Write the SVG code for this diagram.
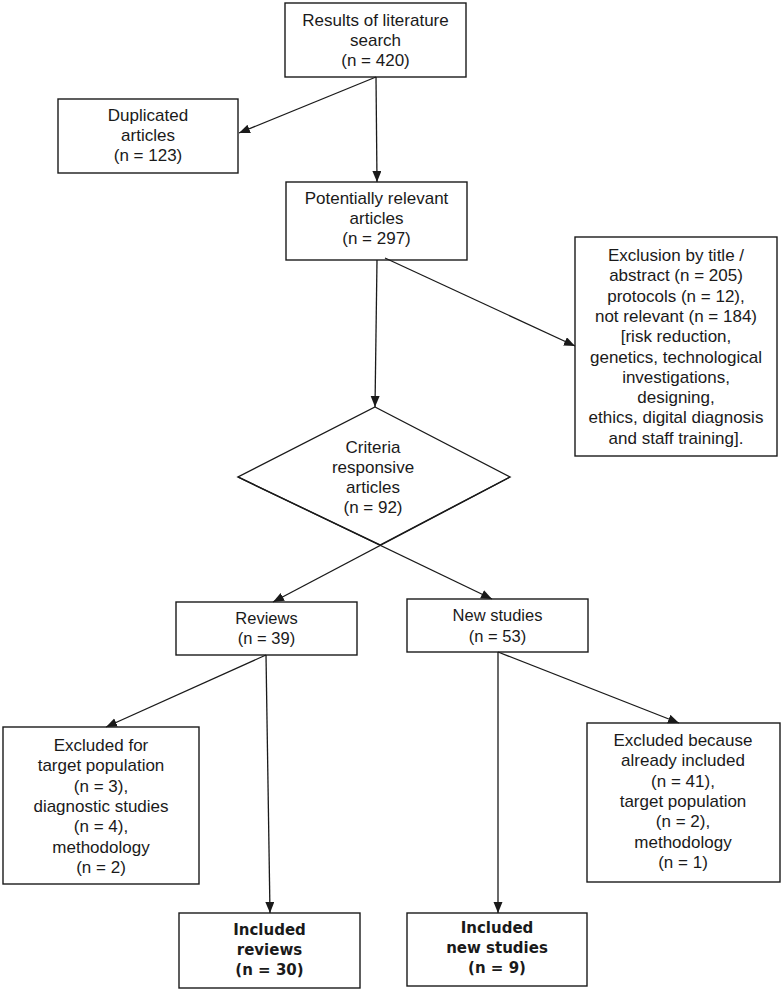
<svg xmlns="http://www.w3.org/2000/svg" width="783" height="991" viewBox="0 0 783 991">
<defs>
<marker id="arr" markerUnits="userSpaceOnUse" markerWidth="12" markerHeight="10" refX="11" refY="4.5" orient="auto">
<path d="M0,0 L11,4.5 L0,9 z" fill="#1a1a1a"/>
</marker>
<style>
.box{fill:#fff;stroke:#1a1a1a;stroke-width:1.4}
.t{font-family:"Liberation Sans",Arial,sans-serif;font-size:17px;fill:#1a1a1a;text-anchor:middle}
.s{font-size:16.5px}
.b{font-family:"DejaVu Sans",Verdana,sans-serif;font-size:15px;font-weight:bold;fill:#1a1a1a;text-anchor:middle}
.c{fill:none;stroke:#1a1a1a;stroke-width:1.3;marker-end:url(#arr)}
</style>
</defs>
<rect width="783" height="991" fill="#fff"/>

<g id="search">
<rect class="box" x="285" y="3" width="181" height="74"/>
<text class="t" x="375.5" y="26">Results of literature</text>
<text class="t" x="375.5" y="46">search</text>
<text class="t" x="375.5" y="66">(n = 420)</text>
</g>

<g id="duplicated">
<rect class="box" x="58" y="99" width="180" height="74"/>
<text class="t" x="148" y="121">Duplicated</text>
<text class="t" x="148" y="141">articles</text>
<text class="t" x="148" y="161">(n = 123)</text>
</g>

<g id="relevant">
<rect class="box" x="286" y="182" width="181" height="78"/>
<text class="t" x="376.5" y="204">Potentially relevant</text>
<text class="t" x="376.5" y="224">articles</text>
<text class="t" x="376.5" y="244">(n = 297)</text>
</g>

<g id="exclusion">
<rect class="box" x="575" y="237" width="202" height="219"/>
<text class="t" x="676" y="261">Exclusion by title /</text>
<text class="t" x="676" y="281.3">abstract (n = 205)</text>
<text class="t" x="676" y="301.6">protocols (n = 12),</text>
<text class="t" x="676" y="321.9">not relevant (n = 184)</text>
<text class="t" x="676" y="342.2">[risk reduction,</text>
<text class="t" x="676" y="362.5">genetics, technological</text>
<text class="t" x="676" y="382.8">investigations,</text>
<text class="t" x="676" y="403.1">designing,</text>
<text class="t" x="676" y="423.4">ethics, digital diagnosis</text>
<text class="t" x="676" y="443.7">and staff training].</text>
</g>

<g id="criteria">
<polygon class="box" fill="none" style="fill:none" points="375,407 510,477 380,545 238,477"/>
<text class="t" x="373" y="453">Criteria</text>
<text class="t" x="373" y="473">responsive</text>
<text class="t" x="373" y="493">articles</text>
<text class="t" x="373" y="513">(n = 92)</text>
</g>

<g id="reviews">
<rect class="box" x="176" y="602" width="181" height="53"/>
<text class="t s" x="266.5" y="624">Reviews</text>
<text class="t s" x="266.5" y="644">(n = 39)</text>
</g>

<g id="newstudies">
<rect class="box" x="407" y="599" width="181" height="53"/>
<text class="t s" x="497.5" y="621">New studies</text>
<text class="t s" x="497.5" y="642">(n = 53)</text>
</g>

<g id="excluded-reviews">
<rect class="box" x="3" y="727" width="196" height="157"/>
<text class="t" x="101" y="751">Excluded for</text>
<text class="t" x="101" y="771.3">target population</text>
<text class="t" x="101" y="791.6">(n = 3),</text>
<text class="t" x="101" y="811.9">diagnostic studies</text>
<text class="t" x="101" y="832.2">(n = 4),</text>
<text class="t" x="101" y="852.5">methodology</text>
<text class="t" x="101" y="872.8">(n = 2)</text>
</g>

<g id="excluded-new">
<rect class="box" x="587" y="723" width="193" height="159"/>
<text class="t" x="683" y="746">Excluded because</text>
<text class="t" x="683" y="766.3">already included</text>
<text class="t" x="683" y="786.6">(n = 41),</text>
<text class="t" x="683" y="806.9">target population</text>
<text class="t" x="683" y="827.2">(n = 2),</text>
<text class="t" x="683" y="847.5">methodology</text>
<text class="t" x="683" y="867.8">(n = 1)</text>
</g>

<g id="included-reviews">
<rect class="box" x="179" y="913" width="181" height="75"/>
<text class="b" x="269.5" y="935">Included</text>
<text class="b" x="269.5" y="955">reviews</text>
<text class="b" x="269.5" y="975">(n = 30)</text>
</g>

<g id="included-new">
<rect class="box" x="407" y="913" width="180" height="73"/>
<text class="b" x="497" y="933">Included</text>
<text class="b" x="497" y="953">new studies</text>
<text class="b" x="497" y="973">(n = 9)</text>
</g>

<g id="connectors">
<line class="c" x1="376" y1="77" x2="377" y2="182"/>
<line class="c" x1="376" y1="77" x2="239" y2="133"/>
<line class="c" x1="377" y1="260" x2="375" y2="407"/>
<line class="c" x1="385" y1="258" x2="575" y2="346"/>
<line class="c" x1="238" y1="477" x2="492" y2="599"/>
<line class="c" x1="510" y1="477" x2="273" y2="602"/>
<line class="c" x1="266" y1="655" x2="106" y2="727"/>
<line class="c" x1="266" y1="655" x2="270" y2="913"/>
<line class="c" x1="498" y1="652" x2="679" y2="723"/>
<line class="c" x1="498" y1="652" x2="498" y2="913"/>
</g>
</svg>
